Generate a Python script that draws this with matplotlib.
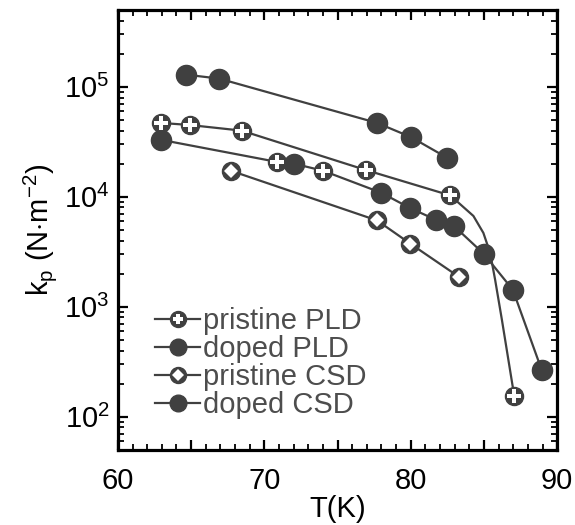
import numpy as np
import matplotlib
matplotlib.use("Agg")
import matplotlib.pyplot as plt
from matplotlib.lines import Line2D
from matplotlib.legend_handler import HandlerTuple
from matplotlib.ticker import MultipleLocator, FuncFormatter, LogLocator

plt.rcParams['font.family'] = ['Liberation Sans', 'DejaVu Sans']
plt.rcParams['mathtext.fontset'] = 'custom'
plt.rcParams['mathtext.rm'] = 'Liberation Sans'
plt.rcParams['mathtext.it'] = 'Liberation Sans:italic'
plt.rcParams['mathtext.bf'] = 'Liberation Sans:bold'

# data (T in K, kp in N/m^2)
ppld_T = [62.94, 64.9, 68.45, 76.95, 82.7, 87.07]
ppld_k = [4.7e4, 4.5e4, 4.0e4, 1.75e4, 1.03e4, 154]
# where the pristine PLD curve bends between the last two points
ppld_bend_T = [84.28, 84.96, 85.42, 85.76, 86.22]
ppld_bend_k = [6.7e3, 4.7e3, 3.1e3, 1.77e3, 770]

dpld_T = [64.65, 66.9, 77.7, 80.0, 82.5]
dpld_k = [1.29e5, 1.19e5, 4.7e4, 3.5e4, 2.26e4]

pcsd_T = [67.7, 77.7, 79.96, 83.3]
pcsd_k = [1.73e4, 6.1e3, 3.76e3, 1.87e3]

dcsd_T = [62.94, 72.03, 77.98, 79.96, 81.7, 82.97, 84.97, 86.97, 88.95]
dcsd_k = [3.3e4, 2.0e4, 1.09e4, 7.9e3, 6.2e3, 5.4e3, 3.05e3, 1.43e3, 265]

# plus markers sitting on the doped CSD curve
extra_T = [70.85, 74.0]
extra_k = [2.08e4, 1.73e4]

labels = ['pristine PLD', 'doped PLD', 'pristine CSD', 'doped CSD']

dark = '#404040'

fig = plt.figure(figsize=(5.75, 5.25), dpi=100)
ax = fig.add_axes([0.205, 0.143, 0.764, 0.838])

# lines
T = np.concatenate([ppld_T[:-1], ppld_bend_T, ppld_T[-1:]])
k = np.concatenate([ppld_k[:-1], ppld_bend_k, ppld_k[-1:]])
ax.plot(T, k, color=dark, lw=1.6, zorder=2)
ax.plot(dpld_T, dpld_k, color=dark, lw=1.6, zorder=2)
ax.plot(pcsd_T, pcsd_k, color=dark, lw=1.6, zorder=2)
T = np.concatenate([dcsd_T, extra_T])
k = np.concatenate([dcsd_k, extra_k])
o = np.argsort(T)
ax.plot(T[o], k[o], color=dark, lw=1.6, zorder=2)

# markers
def ring(x, y, inner, ms_in, ms=13):
    ax.plot(x, y, ls='none', marker='o', ms=ms, mfc=dark, mec=dark, zorder=3)
    ax.plot(x, y, ls='none', marker=inner, ms=ms_in, mfc='white', mec='white',
            mew=0, zorder=4)

ax.plot(dpld_T, dpld_k, ls='none', marker='o', ms=14.5, mfc=dark, mec=dark, zorder=3)
ax.plot(dcsd_T, dcsd_k, ls='none', marker='o', ms=14.5, mfc=dark, mec=dark, zorder=3)
ring(ppld_T, ppld_k, 'P', 9.5)
ring(extra_T, extra_k, 'P', 9.5)
ring(pcsd_T, pcsd_k, 'D', 7)

ax.set_yscale('log')
ax.set_xlim(60, 90)
ax.set_ylim(50, 5e5)

ax.xaxis.set_major_locator(MultipleLocator(5))
ax.xaxis.set_minor_locator(MultipleLocator(1))
ax.xaxis.set_major_formatter(FuncFormatter(lambda v, p: '%d' % v if v % 10 == 0 else ''))
ax.yaxis.set_minor_locator(LogLocator(base=10, subs=np.arange(2, 10)))

ax.tick_params(which='both', direction='in', top=True, right=True, colors='black')
ax.tick_params(which='major', length=7.5, width=1.6)
ax.tick_params(which='minor', length=4, width=1.3)
ax.tick_params(axis='x', which='major', labelsize=21, pad=12)
ax.tick_params(axis='y', which='major', labelsize=21, pad=6)
for s in ax.spines.values():
    s.set_linewidth(2.3)

ax.set_xlabel('T(K)', fontsize=21, labelpad=0)
ax.set_ylabel(r'k$_\mathregular{p}$ (N$\cdot$m$^\mathregular{-2}$)', fontsize=21, labelpad=4)

# legend
def h_line(**kw):
    return Line2D([], [], color=dark, lw=1.6, **kw)

handles = [
    (h_line(marker='o', ms=11.5, mfc=dark, mec=dark),
     Line2D([], [], ls='none', marker='P', ms=7.5, mfc='white', mec='white', mew=0)),
    h_line(marker='o', ms=12, mfc=dark, mec=dark),
    (h_line(marker='o', ms=11.5, mfc=dark, mec=dark),
     Line2D([], [], ls='none', marker='D', ms=6, mfc='white', mec='white', mew=0)),
    h_line(marker='o', ms=12, mfc=dark, mec=dark),
]
leg = ax.legend(handles, labels, handler_map={tuple: HandlerTuple(ndivide=1)},
                loc='upper left', bbox_to_anchor=(0.085, 0.325), frameon=False,
                fontsize=21, handlelength=1.55, handletextpad=0.1,
                labelspacing=0.0, borderpad=0, borderaxespad=0, numpoints=1)
for t in leg.get_texts():
    t.set_color('#4d4d4d')

fig.savefig('out.png', dpi=100)
